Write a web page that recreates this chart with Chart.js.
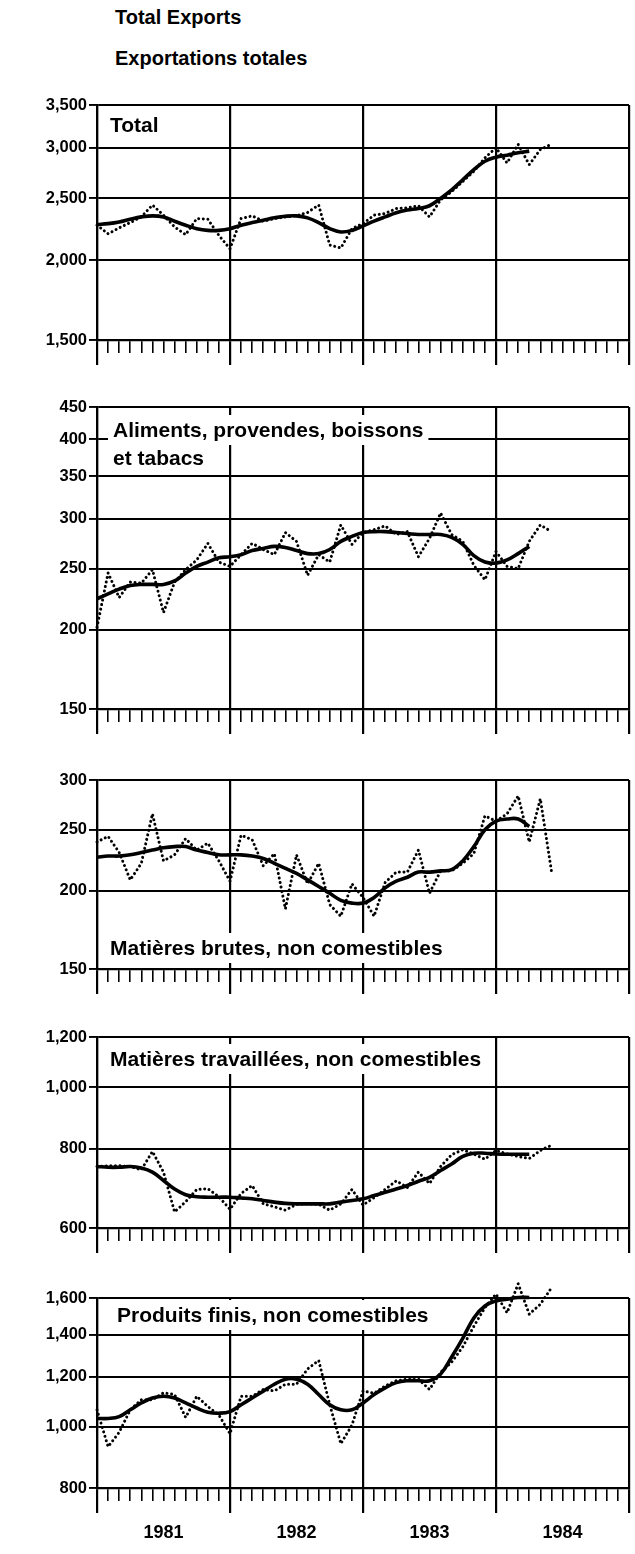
<!DOCTYPE html>
<html>
<head>
<meta charset="utf-8">
<script src="https://cdn.jsdelivr.net/npm/chart.js@4.4.1/dist/chart.umd.min.js"></script>
<style>
    body { margin: 0; background: #fff; width: 635px; height: 1554px; position: relative; overflow: hidden;
           font-family: "Liberation Sans", Arial, sans-serif; }
    canvas { position: absolute; left: 0; }
    .titre { position: absolute; left: 115px; font-weight: bold; font-size: 20px; color: #000; line-height: 22px; }
</style>
</head>
<body>
<div class="titre" style="top:6px">Total Exports</div>
<div class="titre" style="top:47px">Exportations totales</div>
<canvas id="c1" width="635" height="280" style="top:90px"></canvas>
<canvas id="c2" width="635" height="347" style="top:392px"></canvas>
<canvas id="c3" width="635" height="234" style="top:765px"></canvas>
<canvas id="c4" width="635" height="236" style="top:1022px"></canvas>
<canvas id="c5" width="635" height="277" style="top:1276px"></canvas>
<script>
// mois 0 = janvier 1981, un point par mois
const annees = ['1981', '1982', '1983', '1984'];

const totalMensuel = [2269, 2200, 2247, 2291, 2338, 2440, 2353, 2255, 2193, 2324, 2319, 2187, 2084, 2324, 2347, 2302, 2324, 2338, 2347, 2376, 2440, 2112, 2090, 2241, 2282, 2353, 2367, 2410, 2416, 2434, 2338, 2486, 2561, 2656, 2755, 2893, 3000, 2840, 3037, 2823, 2982, 3037];
const totalTendance = [2274, 2282, 2296, 2319, 2338, 2347, 2338, 2302, 2269, 2241, 2227, 2227, 2241, 2269, 2291, 2310, 2330, 2344, 2347, 2330, 2291, 2241, 2214, 2227, 2263, 2302, 2338, 2373, 2396, 2410, 2434, 2500, 2577, 2673, 2772, 2858, 2900, 2921, 2946, 2964];
const totalTicks = [1500, 2000, 2500, 3000, 3500];

const alimentsMensuel = [202, 246, 225, 238, 237, 249, 213, 238, 249, 258, 274, 256, 252, 263, 274, 268, 263, 285, 276, 244, 263, 256, 293, 273, 285, 288, 292, 283, 286, 261, 279, 306, 283, 276, 253, 240, 266, 252, 250, 276, 293, 286];
const alimentsTendance = [224, 228, 232, 235, 236, 236, 236, 239, 246, 252, 256, 260, 261, 263, 267, 269, 271, 270, 267, 264, 264, 268, 276, 281, 285, 286, 286, 285, 284, 283, 283, 283, 280, 273, 262, 256, 255, 258, 264, 271];
const alimentsTicks = [150, 200, 250, 300, 350, 400, 450];

const brutesMensuel = [239, 244, 230, 208, 221, 265, 223, 228, 242, 232, 238, 223, 207, 245, 241, 219, 229, 187, 228, 205, 221, 190, 182, 205, 195, 182, 206, 214, 214, 232, 198, 215, 215, 221, 229, 263, 258, 265, 283, 239, 280, 215];
const brutesTendance = [226, 227, 227, 228, 230, 232, 234, 235, 235, 232, 230, 228, 228, 228, 227, 225, 221, 217, 213, 208, 203, 198, 193, 191, 191, 195, 202, 207, 210, 214, 214, 215, 216, 223, 235, 250, 258, 260, 260, 253];
const brutesTicks = [150, 200, 250, 300];

const travailleesMensuel = [750, 752, 752, 750, 741, 792, 735, 636, 660, 690, 692, 672, 642, 680, 700, 655, 648, 640, 654, 655, 654, 640, 655, 690, 652, 670, 690, 712, 695, 735, 705, 750, 783, 797, 785, 770, 795, 785, 778, 772, 795, 810];
const travailleesTendance = [750, 748, 748, 750, 746, 735, 713, 691, 677, 672, 671, 671, 671, 669, 667, 663, 659, 656, 655, 655, 655, 655, 659, 663, 667, 675, 683, 691, 700, 711, 721, 739, 757, 778, 787, 787, 785, 784, 784, 784];
const travailleesTicks = [600, 800, 1000, 1200];

const finisMensuel = [1064, 930, 980, 1064, 1104, 1104, 1132, 1125, 1035, 1118, 1077, 1044, 975, 1118, 1118, 1146, 1140, 1168, 1168, 1235, 1274, 1084, 940, 1006, 1140, 1130, 1161, 1183, 1190, 1190, 1146, 1220, 1266, 1339, 1443, 1545, 1623, 1516, 1685, 1508, 1564, 1660];
const finisTendance = [1031, 1031, 1038, 1064, 1091, 1111, 1118, 1111, 1091, 1071, 1055, 1051, 1057, 1084, 1111, 1139, 1168, 1190, 1190, 1168, 1125, 1084, 1064, 1064, 1091, 1125, 1153, 1175, 1183, 1183, 1183, 1212, 1290, 1381, 1488, 1554, 1583, 1593, 1603, 1603];
const finisTicks = [800, 1000, 1200, 1400, 1600];

const graduationsMois = Array.from({length: 49}, (_, i) => i);
const graduationsAns = [0, 12, 24, 36, 48];
const milieuxAns = [6, 18, 30, 42];

const police = '"Liberation Sans", Arial, sans-serif';
Chart.defaults.font.family = police;
Chart.defaults.color = '#000';

// étiquettes dans le graphique, sur fond blanc (cache la grille)
const etiquettes = {
    id: 'etiquettes',
    beforeDatasetsDraw(chart, args, opts) {
        let ctx = chart.ctx, a = chart.chartArea;
        ctx.save();
        ctx.font = 'bold 21px ' + police;
        ctx.textBaseline = 'middle';
        for (let l of opts.lignes) {
            let y = a.top + l.dy;
            let w = ctx.measureText(l.texte).width;
            ctx.fillStyle = '#fff';
            ctx.fillRect(l.x - 5, y - 15, w + 10, 30);
            ctx.fillStyle = '#000';
            ctx.fillText(l.texte, l.x, y + 1);
        }
        ctx.restore();
    }
};

function points(liste) {
    return liste.map((v, i) => ({x: i, y: v}));
}

function graphique(id, mensuel, tendance, ticks, lignes, padHaut, dernier) {
    let scales = {
        x: {
            type: 'linear', min: 0, max: 48, position: 'bottom',
            afterBuildTicks: ax => { ax.ticks = graduationsMois.map(v => ({value: v})); },
            afterFit: ax => { ax.height = 13; },
            ticks: {display: false},
            grid: {
                color: c => (c.tick && c.tick.value % 12 === 0) ? '#000' : 'rgba(0,0,0,0)',
                lineWidth: c => (c.tick && c.tick.value % 12 === 0) ? 2.2 : 1.6,
                tickColor: '#000',
                tickLength: 13
            },
            border: {display: true, color: '#000', width: 2.2}
        },
        x2: {
            type: 'linear', min: 0, max: 48, position: 'bottom',
            afterBuildTicks: ax => { ax.ticks = graduationsAns.map(v => ({value: v})); },
            afterFit: ax => { ax.height = 12; },
            ticks: {display: false},
            grid: {drawOnChartArea: false, color: '#000', lineWidth: 2.2, tickLength: 12},
            border: {display: false}
        },
        y: {
            type: 'logarithmic', min: ticks[0], max: ticks[ticks.length - 1],
            afterBuildTicks: ax => { ax.ticks = ticks.map(v => ({value: v})); },
            afterFit: ax => { ax.width = 97; },
            ticks: {
                font: {size: 16.5, weight: 'bold'}, color: '#000', padding: 2,
                callback: v => v.toLocaleString('en-US')
            },
            grid: {color: '#000', lineWidth: 1.9, tickLength: 8},
            border: {color: '#000', width: 2.2}
        }
    };
    if (dernier) {
        scales.an = {
            type: 'linear', min: 0, max: 48, position: 'bottom',
            afterBuildTicks: ax => { ax.ticks = milieuxAns.map(v => ({value: v})); },
            afterFit: ax => { ax.height = 40; },
            ticks: {
                font: {size: 18, weight: 'bold'}, color: '#000', padding: 1,
                autoSkip: false, maxRotation: 0,
                callback: (v, i) => annees[i]
            },
            grid: {display: false},
            border: {display: false}
        };
    }

    return new Chart(document.getElementById(id), {
        type: 'line',
        data: {
            datasets: [{
                data: points(mensuel),
                borderColor: '#000',
                borderWidth: 3,
                borderDash: [0.01, 4.6],
                borderCapStyle: 'round',
                pointRadius: 0,
                tension: 0,
                clip: false
            }, {
                data: points(tendance),
                borderColor: '#000',
                borderWidth: 3.6,
                pointRadius: 0,
                tension: 0.4,
                clip: false
            }]
        },
        options: {
            responsive: false,
            animation: false,
            devicePixelRatio: 1,
            layout: {padding: {top: padHaut, right: 6, left: 0, bottom: dernier ? 0 : 5}},
            scales: scales,
            plugins: {
                legend: {display: false},
                tooltip: {enabled: false},
                etiquettes: {lignes: lignes}
            }
        },
        plugins: [etiquettes]
    });
}

graphique('c1', totalMensuel, totalTendance, totalTicks,
    [{texte: 'Total', x: 110, dy: 20}], 15, false);
graphique('c2', alimentsMensuel, alimentsTendance, alimentsTicks,
    [{texte: 'Aliments, provendes, boissons', x: 113, dy: 23},
     {texte: 'et tabacs', x: 113, dy: 51}], 15, false);
graphique('c3', brutesMensuel, brutesTendance, brutesTicks,
    [{texte: 'Matières brutes, non comestibles', x: 110, dy: 168}], 15, false);
graphique('c4', travailleesMensuel, travailleesTendance, travailleesTicks,
    [{texte: 'Matières travaillées, non comestibles', x: 110, dy: 22}], 15, false);
graphique('c5', finisMensuel, finisTendance, finisTicks,
    [{texte: 'Produits finis, non comestibles', x: 117, dy: 17}], 22, true);
</script>
</body>
</html>
